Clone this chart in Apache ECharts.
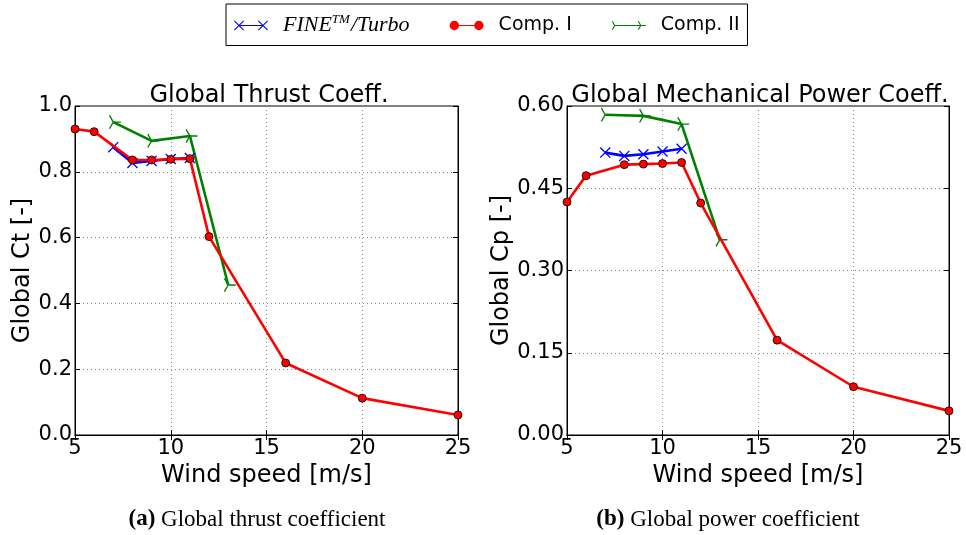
<!DOCTYPE html>
<html>
<head>
<meta charset="utf-8">
<script src="https://cdn.jsdelivr.net/npm/echarts@6/dist/echarts.min.js"></script>
<style>
  html, body { margin: 0; padding: 0; background: #fff; }
  #chart { width: 966px; height: 535px; }
</style>
</head>
<body>
<div id="chart"></div>
<script>
// wind speeds [m/s]
const windComp1 = [5, 6, 8, 9, 10, 11, 12, 16, 20, 25];
const windFine = [7, 8, 9, 10, 11];
const windComp2 = [7, 9, 11, 13];

// global thrust coefficient
const ctComp1 = [0.930, 0.922, 0.836, 0.836, 0.838, 0.840, 0.603, 0.219, 0.112, 0.061];
const ctFine = [0.875, 0.827, 0.833, 0.839, 0.842];
const ctComp2 = [0.951, 0.894, 0.909, 0.456];

// global power coefficient
const cpComp1 = [0.425, 0.473, 0.493, 0.494, 0.495, 0.497, 0.423, 0.173, 0.088, 0.044];
const cpFine = [0.515, 0.509, 0.512, 0.517, 0.522];
const cpComp2 = [0.584, 0.582, 0.567, 0.356];

const pairs = (xs, ys) => xs.map((x, i) => [x, ys[i]]);

// filled path helpers for matplotlib-like markers
function bar(x1, y1, x2, y2, t) {
  const dx = x2 - x1, dy = y2 - y1, len = Math.hypot(dx, dy) || 1;
  const nx = -dy / len * t / 2, ny = dx / len * t / 2;
  const p = [[x1 + nx, y1 + ny], [x2 + nx, y2 + ny], [x2 - nx, y2 - ny], [x1 - nx, y1 - ny]];
  return 'M' + p.map(q => q[0].toFixed(2) + ',' + q[1].toFixed(2)).join('L') + 'Z';
}
function xMark(cx, cy, r, t) {
  return bar(cx - r, cy - r, cx + r, cy + r, t) + bar(cx + r, cy - r, cx - r, cy + r, t);
}
function triRight(cx, cy, L, t) {
  return bar(cx, cy, cx + L, cy, t) +
    bar(cx, cy, cx - L * 0.5, cy - L * 0.866, t) +
    bar(cx, cy, cx - L * 0.5, cy + L * 0.866, t);
}
function dot(cx, cy, r) {
  return 'M' + (cx - r) + ',' + cy + 'A' + r + ',' + r + ' 0 1,0 ' + (cx + r) + ',' + cy +
    'A' + r + ',' + r + ' 0 1,0 ' + (cx - r) + ',' + cy + 'Z';
}

const xSym = 'path://' + xMark(0, 0, 10, 2.6);
const triSym = 'path://' + triRight(0, 0, 10, 1.8);

// legend icons: line with a marker at each end
const iconFine = 'path://' + xMark(5, 5, 5, 1.2) + bar(5, 5, 31, 5, 1.2) + xMark(31, 5, 5, 1.2);
const iconComp1 = 'path://' + dot(5, 5, 5) + bar(5, 5, 31, 5, 1.2) + dot(31, 5, 5);
const iconComp2 = 'path://' + triRight(5, 5, 5, 1.1) + bar(5, 5, 31, 5, 1.2) + triRight(31, 5, 5, 1.1);

const font = 'DejaVu Sans';
const blue = '#0000ff', red = '#ff0000', green = '#008000';

function xAxisFor(gi) {
  return {
    type: 'value', gridIndex: gi, min: 5, max: 25, interval: 5,
    name: 'Wind speed [m/s]', nameLocation: 'middle', nameGap: 18,
    nameTextStyle: { fontFamily: font, fontSize: 24, color: '#000' },
    axisLine: { show: true, onZero: false, lineStyle: { color: '#000', width: 1 } },
    axisTick: { inside: true, length: 5, lineStyle: { color: '#000' } },
    axisLabel: { fontFamily: font, fontSize: 21, color: '#000', margin: 3 },
    splitLine: { show: true, lineStyle: { color: '#888', type: [1, 3], width: 1 } }
  };
}
function yAxisFor(gi, max, interval, digits, name, gap) {
  return {
    type: 'value', gridIndex: gi, min: 0, max: max, interval: interval,
    name: name, nameLocation: 'middle', nameGap: gap, nameRotate: 90,
    nameTextStyle: { fontFamily: font, fontSize: 24, color: '#000' },
    axisLine: { show: true, lineStyle: { color: '#000', width: 1 } },
    axisTick: { inside: true, length: 5, lineStyle: { color: '#000' } },
    axisLabel: { fontFamily: font, fontSize: 21, color: '#000', margin: 3,
      formatter: v => v.toFixed(digits) },
    splitLine: { show: true, lineStyle: { color: '#888', type: [1, 3], width: 1 } }
  };
}
function mirrorX(gi) {
  return { type: 'value', gridIndex: gi, min: 5, max: 25, interval: 5, position: 'top',
    axisLine: { show: true, lineStyle: { color: '#000' } },
    axisTick: { inside: true, length: 5, lineStyle: { color: '#000' } },
    axisLabel: { show: false }, splitLine: { show: false } };
}
function mirrorY(gi, max, interval) {
  return { type: 'value', gridIndex: gi, min: 0, max: max, interval: interval, position: 'right',
    axisLine: { show: true, lineStyle: { color: '#000' } },
    axisTick: { inside: true, length: 5, lineStyle: { color: '#000' } },
    axisLabel: { show: false }, splitLine: { show: false } };
}

function seriesFor(gi, fine, comp1, comp2) {
  return [
    { name: 'FINE', type: 'line', xAxisIndex: gi * 2, yAxisIndex: gi * 2, z: 3,
      data: pairs(windFine, fine), symbol: xSym, symbolSize: 11,
      lineStyle: { color: blue, width: 2.6 }, itemStyle: { color: blue } },
    { name: 'Comp. I', type: 'line', xAxisIndex: gi * 2, yAxisIndex: gi * 2, z: 4,
      data: pairs(windComp1, comp1), symbol: 'circle', symbolSize: 8,
      lineStyle: { color: red, width: 2.6 }, itemStyle: { color: red, borderColor: '#000', borderWidth: 0.8 } },
    { name: 'Comp. II', type: 'line', xAxisIndex: gi * 2, yAxisIndex: gi * 2, z: 2,
      data: pairs(windComp2, comp2), symbol: triSym, symbolSize: [12, 14], symbolOffset: [1.6, 0],
      lineStyle: { color: green, width: 2.6 }, itemStyle: { color: green } }
  ];
}

const captionStyle = {
  fontFamily: 'Liberation Serif', fontSize: 23, fontWeight: 'normal', color: '#000',
  rich: { b: { fontFamily: 'Liberation Serif', fontSize: 23, fontWeight: 'bold', color: '#000' } }
};
const titleStyle = { fontFamily: font, fontSize: 24, fontWeight: 'normal', color: '#000' };

const chart = echarts.init(document.getElementById('chart'));
chart.setOption({
  backgroundColor: '#fff',
  animation: false,
  title: [
    { text: 'Global Thrust Coeff.', left: 264, top: 79, textAlign: 'center', textStyle: titleStyle },
    { text: 'Global Mechanical Power Coeff.', left: 755, top: 79, textAlign: 'center', textStyle: titleStyle },
    { text: '{b|(a)} Global thrust coefficient', left: 252, top: 503, textAlign: 'center', textStyle: captionStyle },
    { text: '{b|(b)} Global power coefficient', left: 723, top: 503, textAlign: 'center', textStyle: captionStyle }
  ],
  legend: {
    left: 226, top: 4, padding: [9, 8, 9, 8],
    borderColor: '#000', borderWidth: 1,
    itemWidth: 34, itemHeight: 10, itemGap: 40,
    data: [
      { name: 'FINE', icon: iconFine, itemStyle: { color: blue, borderWidth: 0 } },
      { name: 'Comp. I', icon: iconComp1, itemStyle: { color: red, borderWidth: 0 } },
      { name: 'Comp. II', icon: iconComp2, itemStyle: { color: green, borderWidth: 0 } }
    ],
    formatter: name => name === 'FINE' ? '{it|FINE}{sup|TM}{it|/Turbo}' : name,
    textStyle: { fontFamily: font, fontSize: 19, color: '#000', padding: [0, 0, 0, 10],
      rich: {
        it: { fontFamily: 'Liberation Serif', fontStyle: 'italic', fontSize: 22, color: '#000' },
        sup: { fontFamily: 'Liberation Serif', fontStyle: 'italic', fontSize: 13, color: '#000', padding: [0, 1, 12, 0] }
      } }
  },
  grid: [
    { left: 75, top: 106, width: 383, height: 329, show: true, borderColor: '#000', borderWidth: 1 },
    { left: 567, top: 106, width: 382, height: 329, show: true, borderColor: '#000', borderWidth: 1 }
  ],
  xAxis: [xAxisFor(0), mirrorX(0), xAxisFor(1), mirrorX(1)],
  yAxis: [
    yAxisFor(0, 1.0, 0.2, 1, 'Global Ct [-]', 38), mirrorY(0, 1.0, 0.2),
    yAxisFor(1, 0.6, 0.15, 2, 'Global Cp [-]', 42), mirrorY(1, 0.6, 0.15)
  ],
  series: [].concat(seriesFor(0, ctFine, ctComp1, ctComp2), seriesFor(1, cpFine, cpComp1, cpComp2))
});
</script>
</body>
</html>
